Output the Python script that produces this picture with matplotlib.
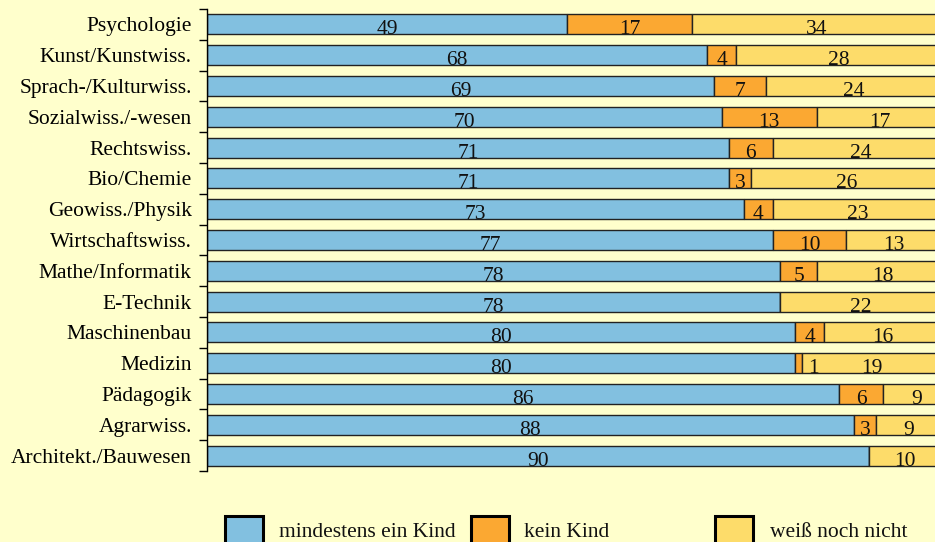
import matplotlib.pyplot as plt
from matplotlib.patches import Rectangle

faecher = ['Psychologie', 'Kunst/Kunstwiss.', 'Sprach-/Kulturwiss.', 'Sozialwiss./-wesen',
           'Rechtswiss.', 'Bio/Chemie', 'Geowiss./Physik', 'Wirtschaftswiss.',
           'Mathe/Informatik', 'E-Technik', 'Maschinenbau', 'Medizin', 'Pädagogik',
           'Agrarwiss.', 'Architekt./Bauwesen']
kind = [49, 68, 69, 70, 71, 71, 73, 77, 78, 78, 80, 80, 86, 88, 90]
kein_kind = [17, 4, 7, 13, 6, 3, 4, 10, 5, 0, 4, 1, 6, 3, 0]
weiss_nicht = [34, 28, 24, 17, 24, 26, 23, 13, 18, 22, 16, 19, 9, 9, 10]
serien = ['mindestens ein Kind', 'kein Kind', 'weiß noch nicht']

BG = '#FFFFCC'
farben = ['#82C0E0', '#FBA832', '#FDDC6A']
FS = 15.5

plt.rcParams['font.family'] = ['Liberation Serif', 'DejaVu Serif']

fig = plt.figure(figsize=(9.35, 5.42), dpi=100, facecolor=BG)
W, H = 935, 542
ax = fig.add_axes([207 / W, 1 - 471 / H, 735 / W, 462 / H], facecolor=BG)

y = list(range(len(faecher)))
hoehe = 0.65
left = [0] * len(faecher)
for werte, farbe in zip([kind, kein_kind, weiss_nicht], farben):
    bars = ax.barh(y, werte, left=left, height=hoehe, color=farbe,
                   edgecolor='#222222', linewidth=1.0)
    for i, (b, v) in enumerate(zip(bars, werte)):
        if v == 0:
            continue
        cx = b.get_x() + b.get_width() / 2
        dx = 11 if v == 1 else 0
        ax.annotate(str(v), (cx, i + hoehe / 2), xytext=(dx, 0), textcoords='offset points',
                    ha='center', va='baseline', fontsize=FS, color='#111111')
    left = [l + v for l, v in zip(left, werte)]

ax.set_xlim(0, 100)
ax.set_ylim(len(faecher) - 0.5, -0.5)
ax.set_yticks(y)
ax.set_yticklabels(faecher, fontsize=FS)
ax.set_yticks([i - 0.5 for i in range(len(faecher) + 1)], minor=True)
ax.tick_params(axis='y', which='major', length=0, pad=11)
ax.tick_params(axis='y', which='minor', length=6, width=1, direction='out')
ax.set_xticks([])
for s in ['top', 'right', 'bottom']:
    ax.spines[s].set_visible(False)
ax.spines['left'].set_linewidth(1)

# Legende
for x0, tx, farbe, name in zip([225, 471, 715], [279, 524, 770], farben, serien):
    fig.add_artist(Rectangle((x0 / W, 1 - 548 / H), 38 / W, 32 / H, transform=fig.transFigure,
                             facecolor=farbe, edgecolor='black', linewidth=2.2))
    fig.text(tx / W, 1 - 537 / H, name, fontsize=FS, va='baseline', ha='left', color='#111111')

fig.savefig('out.png', dpi=100, facecolor=BG)
